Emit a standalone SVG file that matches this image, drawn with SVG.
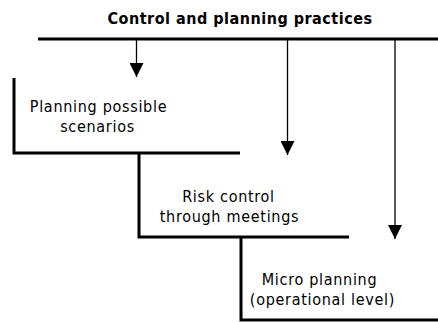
<svg xmlns="http://www.w3.org/2000/svg" width="438" height="322" viewBox="0 0 438 322">
<defs>
<marker id="ah" markerWidth="14" markerHeight="14" refX="14" refY="7" orient="auto" markerUnits="userSpaceOnUse" viewBox="0 0 14 14">
<path d="M0,0 L14,7 L0,14 Z" fill="#000"/>
</marker>
<style>
.t{font-family:"DejaVu Sans Condensed","DejaVu Sans",sans-serif;font-stretch:condensed;font-size:16px;letter-spacing:0.7px;fill:#000;text-anchor:middle}
.h{font-family:"DejaVu Sans Condensed","DejaVu Sans",sans-serif;font-stretch:condensed;font-size:16px;letter-spacing:0.5px;font-weight:bold;fill:#000;text-anchor:middle}
.b{stroke:#000;stroke-width:3;fill:none}
.c{stroke:#000;stroke-width:1.3;fill:none}
</style>
</defs>
<rect width="438" height="322" fill="#fff"/>
<g id="header">
<text class="h" x="240" y="24">Control and planning practices</text>
<line class="b" x1="38" y1="39" x2="438" y2="39"/>
</g>
<g id="connectors">
<line class="c" x1="136.5" y1="40" x2="136.5" y2="77" marker-end="url(#ah)"/>
<line class="c" x1="287.5" y1="40" x2="287.5" y2="155" marker-end="url(#ah)"/>
<line class="c" x1="395" y1="40" x2="395" y2="239" stroke="#555" marker-end="url(#ah)"/>
</g>
<g id="node1">
<polyline class="b" points="14,78 14,153 240,153"/>
<text class="t" x="98.5" y="111.5">Planning possible</text>
<text class="t" x="97.5" y="131.5">scenarios</text>
</g>
<g id="node2">
<polyline class="b" points="139,153 139,237 349,237"/>
<text class="t" x="228.5" y="201.5">Risk control</text>
<text class="t" x="229.5" y="221.5">through meetings</text>
</g>
<g id="node3">
<polyline class="b" points="241,237 241,320 438,320"/>
<text class="t" x="319.5" y="284.5">Micro planning</text>
<text class="t" x="322.5" y="304.5">(operational level)</text>
</g>
</svg>
